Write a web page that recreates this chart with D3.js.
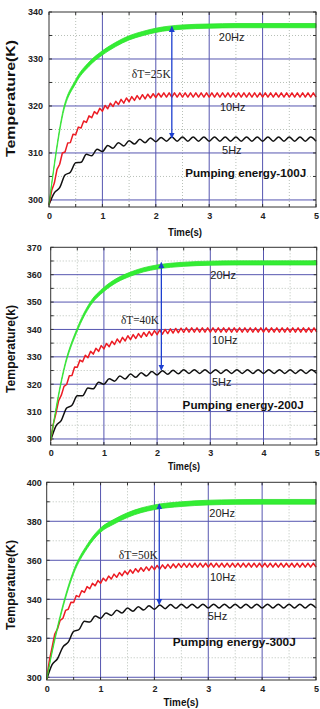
<!DOCTYPE html>
<html>
<head>
<meta charset="utf-8">
<script src="https://cdnjs.cloudflare.com/ajax/libs/d3/7.8.5/d3.min.js"></script>
<style>
  body { margin: 0; background: #fff; }
</style>
</head>
<body>
<div id="chart"></div>
<script>
// ---- data ----
const xTicks = [0, 1, 2, 3, 4, 5];
const xMinor = [0.5, 1.5, 2.5, 3.5, 4.5];
const yTicks100 = [300, 310, 320, 330, 340];
const yTicks200 = [300, 310, 320, 330, 340, 350, 360, 370];
const yTicks300 = [300, 320, 340, 360, 380, 400];
const yMinor100 = [305, 315, 325, 335];
const yMinor200 = [305, 315, 325, 335, 345, 355, 365];
const yMinor300 = [310, 330, 350, 370, 390];

const seriesNames = ["20Hz", "10Hz", "5Hz"];
const energyLabels = ["Pumping energy-100J", "Pumping energy-200J", "Pumping energy-300J"];
const yTitles = ["Temperature(K)", "Temperature(k)", "Temperature(K)"];
const deltaLabels = ["\u03b4T=25K", "\u03b4T=40K", "\u03b4T=50K"];

// 20Hz: ripple too dense to resolve, kept as lower / upper envelope
const greenTimes = [0, 0.1, 0.25, 0.5, 0.75, 1, 1.25, 1.5, 1.75, 2, 2.5, 3, 3.5, 4, 4.5, 5];
const green100Lo = [299, 307.2, 317.65, 324.8, 328.45, 330.85, 332.65, 334.05, 334.95, 335.65, 336.35, 336.55, 336.65, 336.65, 336.65, 336.65];
const green100Hi = [299, 307.8, 318.35, 325.6, 329.35, 331.75, 333.55, 334.95, 335.85, 336.55, 337.25, 337.45, 337.55, 337.55, 337.55, 337.55];
const green200Lo = [299.5, 310.6, 325.0, 339.4, 348.8, 353.85, 357.25, 359.45, 361.05, 362.05, 363.05, 363.45, 363.55, 363.55, 363.55, 363.55];
const green200Hi = [299.5, 311.4, 326.0, 340.6, 350.2, 355.35, 358.75, 360.95, 362.55, 363.55, 364.55, 364.95, 365.05, 365.05, 365.05, 365.05];
const green300Lo = [299, 312.5, 330.3, 353.1, 366.0, 374.4, 378.6, 382.0, 384.4, 386.0, 387.6, 388.4, 388.7, 388.8, 388.8, 388.8];
const green300Hi = [299, 313.5, 331.7, 354.9, 368.0, 376.6, 381.0, 384.4, 386.8, 388.4, 390.0, 390.8, 391.1, 391.2, 391.2, 391.2];

// 10Hz: trough / peak every 0.05 s
const redStep = 0.05;
const red100 = [299.0, 302.0, 303.6, 306.5, 307.6, 310.0, 310.2, 312.1, 312.2, 314.0,
  313.9, 315.5, 315.3, 316.8, 316.5, 317.9, 317.5, 318.8, 318.3, 319.5,
  318.9, 320.1, 319.4, 320.6, 319.9, 321.0, 320.3, 321.4, 320.6, 321.7,
  320.9, 322.0, 321.2, 322.2, 321.4, 322.4, 321.5, 322.5, 321.7, 322.6,
  321.8, 322.7, 321.9, 322.8, 321.9, 322.8, 321.9, 322.8, 321.9, 322.8,
  321.9, 322.8, 321.9, 322.8, 321.9, 322.8, 321.9, 322.8, 321.9, 322.8,
  321.9, 322.8, 321.9, 322.8, 321.9, 322.8, 321.9, 322.8, 321.9, 322.8,
  321.9, 322.8, 321.9, 322.8, 321.9, 322.8, 321.9, 322.8, 321.9, 322.8,
  321.9, 322.8, 321.9, 322.8, 321.9, 322.8, 321.9, 322.8, 321.9, 322.8,
  321.9, 322.8, 321.9, 322.8, 321.9, 322.8, 321.9, 322.8, 321.9, 322.8,
  321.9];
const red200 = [299.5, 305.5, 309.5, 314.0, 316.0, 319.2, 319.9, 323.1, 323.2, 326.3,
  326.2, 328.8, 328.2, 330.6, 329.7, 332.0, 331.0, 333.1, 332.0, 334.1,
  332.9, 334.9, 333.7, 335.7, 334.5, 336.5, 335.2, 337.1, 335.8, 337.7,
  336.3, 338.1, 336.7, 338.5, 337.1, 338.9, 337.5, 339.25, 337.8, 339.55,
  338.1, 339.8, 338.3, 340.0, 338.5, 340.2, 338.7, 340.35, 338.8, 340.45,
  338.9, 340.6, 339.0, 340.6, 339.0, 340.6, 339.0, 340.6, 339.0, 340.6,
  339.0, 340.6, 339.0, 340.6, 339.0, 340.6, 339.0, 340.6, 339.0, 340.6,
  339.0, 340.6, 339.0, 340.6, 339.0, 340.6, 339.0, 340.6, 339.0, 340.6,
  339.0, 340.6, 339.0, 340.6, 339.0, 340.6, 339.0, 340.6, 339.0, 340.6,
  339.0, 340.6, 339.0, 340.6, 339.0, 340.6, 339.0, 340.6, 339.0, 340.6,
  339.0];
const red300 = [299.0, 308.7, 315.3, 322.2, 324.8, 329.2, 330.2, 334.3, 334.9, 338.5,
  338.4, 341.9, 341.2, 344.4, 343.5, 346.5, 345.4, 348.2, 346.9, 349.6,
  348.2, 350.8, 349.4, 351.9, 350.4, 352.9, 351.3, 353.7, 352.1, 354.5,
  352.8, 355.1, 353.4, 355.7, 354.0, 356.2, 354.4, 356.6, 354.8, 357.0,
  355.2, 357.35, 355.5, 357.65, 355.8, 357.9, 356.0, 358.1, 356.2, 358.3,
  356.35, 358.4, 356.4, 358.45, 356.45, 358.5, 356.5, 358.5, 356.5, 358.5,
  356.5, 358.5, 356.5, 358.5, 356.5, 358.5, 356.5, 358.5, 356.5, 358.5,
  356.5, 358.5, 356.5, 358.5, 356.5, 358.5, 356.5, 358.5, 356.5, 358.5,
  356.5, 358.5, 356.5, 358.5, 356.5, 358.5, 356.5, 358.5, 356.5, 358.5,
  356.5, 358.5, 356.5, 358.5, 356.5, 358.5, 356.5, 358.5, 356.5, 358.5,
  356.5];

// 5Hz: trough / peak every 0.1 s
const blackStep = 0.1;
const black100 = [299.0, 301.5, 302.6, 305.3, 305.9, 307.9, 308.0, 309.7, 309.4, 310.8,
  310.3, 311.6, 311.0, 312.2, 311.5, 312.6, 311.9, 312.9, 312.2, 313.2,
  312.4, 313.3, 312.5, 313.4, 312.5, 313.4, 312.5, 313.4, 312.5, 313.4,
  312.5, 313.4, 312.5, 313.4, 312.5, 313.4, 312.5, 313.4, 312.5, 313.4,
  312.5, 313.4, 312.5, 313.4, 312.5, 313.4, 312.5, 313.4, 312.5, 313.4,
  312.5];
const black200 = [299.5, 304.8, 306.8, 311.3, 312.3, 315.8, 315.8, 318.6, 318.3, 320.7,
  320.0, 322.0, 321.1, 323.0, 321.9, 323.7, 322.5, 324.2, 323.0, 324.6,
  323.4, 324.9, 323.6, 325.1, 323.8, 325.3, 323.9, 325.3, 323.9, 325.3,
  323.9, 325.3, 323.9, 325.3, 323.9, 325.3, 323.9, 325.3, 323.9, 325.3,
  323.9, 325.3, 323.9, 325.3, 323.9, 325.3, 323.9, 325.3, 323.9, 325.3,
  323.9];
const black300 = [299.0, 306.5, 309.5, 315.5, 318.0, 323.5, 324.5, 328.7, 328.3, 331.4,
  330.2, 333.0, 331.7, 334.4, 333.0, 335.5, 333.9, 336.2, 334.5, 336.7,
  334.9, 337.05, 335.2, 337.3, 335.4, 337.5, 335.5, 337.5, 335.5, 337.5,
  335.5, 337.5, 335.5, 337.5, 335.5, 337.5, 335.5, 337.5, 335.5, 337.5,
  335.5, 337.5, 335.5, 337.5, 335.5, 337.5, 335.5, 337.5, 335.5, 337.5,
  335.5];

// annotations, in data units (time s, temperature K)
const nameAt = [[[3.18, 334.7], [3.2, 319.85], [3.24, 310.6]],
                [[3.0, 359.9], [3.03, 336.1], [3.03, 320.9]],
                [[3.02, 384.1], [3.03, 351.1], [2.99, 331.1]]];
const energyAt = [[2.55, 305.7], [2.48, 312.4], [2.34, 318.3]];
const deltaAt = [[1.55, 326.8], [1.32, 343.4], [1.34, 362.7]];
const arrowT = [2.3, 2.08, 2.09];
const arrowFrom = [336.9, 364.4, 388.9];
const arrowTo = [313.2, 325.2, 337.4];

// ---- layout ----
const width = 320, height = 709;
const panels = [
  {left: 49, right: 316, top: 12, bottom: 207, yDomain: [298.5, 340], yTicks: yTicks100, yMinor: yMinor100,
   lo: green100Lo, hi: green100Hi, red: red100, black: black100,
   padX: 5.8, padY: 6, titleX: 185, titleY: 231.7, titleLen: 34, yTitleCy: 98.5, yTitleLen: 117, energyLen: 121, deltaLen: 39},
  {left: 50.7, right: 316.7, top: 247.3, bottom: 445, yDomain: [297.8, 370], yTicks: yTicks200, yMinor: yMinor200,
   lo: green200Lo, hi: green200Hi, red: red200, black: black200,
   padX: 4.5, padY: 9, titleX: 184, titleY: 466, titleLen: 32, yTitleCy: 349, yTitleLen: 88, energyLen: 121, deltaLen: 38},
  {left: 46.7, right: 316, top: 482.3, bottom: 680, yDomain: [298.6, 400], yTicks: yTicks300, yMinor: yMinor300,
   lo: green300Lo, hi: green300Hi, red: red300, black: black300,
   padX: 5.8, padY: 5, titleX: 181, titleY: 701.7, titleLen: 35, yTitleCy: 585, yTitleLen: 90, energyLen: 123, deltaLen: 39}
];

const sans = "'Liberation Sans', Arial, sans-serif";
const serif = "'Liberation Serif', 'Times New Roman', serif";
const gridBlue = "#5656b0";

let svg = d3.select("#chart").append("svg")
  .attr("width", width)
  .attr("height", height)
  .style("display", "block");

svg.append("defs").append("marker")
  .attr("id", "arrowHead")
  .attr("viewBox", "0 0 10 10")
  .attr("refX", 9).attr("refY", 5)
  .attr("markerUnits", "userSpaceOnUse")
  .attr("markerWidth", 6).attr("markerHeight", 7)
  .attr("orient", "auto-start-reverse")
  .append("path")
  .attr("d", "M0,0 L10,5 L0,10 z")
  .attr("fill", "#1d3fd0");

panels.forEach(function(p, k) {
  let xScale = d3.scaleLinear().domain([0, 5]).range([p.left, p.right]);
  let yScale = d3.scaleLinear().domain(p.yDomain).range([p.bottom, p.top]);
  let g = svg.append("g");

  // dotted minor grid
  g.selectAll(".vminor").data(xMinor).enter().append("line")
    .attr("x1", d => xScale(d)).attr("x2", d => xScale(d))
    .attr("y1", p.top).attr("y2", p.bottom)
    .attr("stroke", "#b8c0b8").attr("stroke-width", 1).attr("stroke-dasharray", "1,2");
  g.selectAll(".hminor").data(p.yMinor).enter().append("line")
    .attr("x1", p.left).attr("x2", p.right)
    .attr("y1", d => yScale(d)).attr("y2", d => yScale(d))
    .attr("stroke", "#b8c0b8").attr("stroke-width", 1).attr("stroke-dasharray", "1,2");

  // solid major grid
  g.selectAll(".vmajor").data(xTicks.slice(1, -1)).enter().append("line")
    .attr("x1", d => xScale(d)).attr("x2", d => xScale(d))
    .attr("y1", p.top).attr("y2", p.bottom)
    .attr("stroke", gridBlue).attr("stroke-width", 1);
  g.selectAll(".hmajor").data(p.yTicks.slice(0, -1)).enter().append("line")
    .attr("x1", p.left).attr("x2", p.right)
    .attr("y1", d => yScale(d)).attr("y2", d => yScale(d))
    .attr("stroke", gridBlue).attr("stroke-width", 1);

  // inward ticks on all four sides
  let xAll = xTicks.concat(xMinor);
  let yAll = p.yTicks.concat(p.yMinor);
  xAll.forEach(function(t) {
    g.append("line").attr("x1", xScale(t)).attr("x2", xScale(t))
      .attr("y1", p.top).attr("y2", p.top + 3).attr("stroke", "#333");
    g.append("line").attr("x1", xScale(t)).attr("x2", xScale(t))
      .attr("y1", p.bottom).attr("y2", p.bottom - 3).attr("stroke", "#333");
  });
  yAll.forEach(function(v) {
    g.append("line").attr("x1", p.left).attr("x2", p.left + 3)
      .attr("y1", yScale(v)).attr("y2", yScale(v)).attr("stroke", "#333");
    g.append("line").attr("x1", p.right).attr("x2", p.right - 3)
      .attr("y1", yScale(v)).attr("y2", yScale(v)).attr("stroke", "#333");
  });

  // curves
  let blackLine = d3.line()
    .x((d, i) => xScale(i * blackStep))
    .y(d => yScale(d))
    .curve(d3.curveMonotoneX);
  let redLine = d3.line()
    .x((d, i) => xScale(i * redStep))
    .y(d => yScale(d));
  let greenBand = d3.area()
    .x((d, i) => xScale(greenTimes[i]))
    .y0((d, i) => yScale(p.lo[i]))
    .y1((d, i) => yScale(p.hi[i]))
    .curve(d3.curveMonotoneX);

  g.append("path").datum(p.black)
    .attr("d", blackLine)
    .attr("fill", "none").attr("stroke", "#111").attr("stroke-width", 1.5);
  g.append("path").datum(p.red)
    .attr("d", redLine)
    .attr("fill", "none").attr("stroke", "#ec1c24").attr("stroke-width", 1.5)
    .attr("stroke-linejoin", "round");
  g.append("path").datum(p.lo)
    .attr("d", greenBand)
    .attr("fill", "#33ee33").attr("stroke", "#2ee02e").attr("stroke-width", 0.8);

  // frame
  g.append("rect")
    .attr("x", p.left).attr("y", p.top)
    .attr("width", p.right - p.left).attr("height", p.bottom - p.top)
    .attr("fill", "none").attr("stroke", "#333").attr("stroke-width", 1);

  // axes labels
  let xAxis = d3.axisBottom(xScale).tickValues(xTicks).tickSize(0).tickPadding(p.padX).tickFormat(d3.format("d"));
  let yAxis = d3.axisLeft(yScale).tickValues(p.yTicks).tickSize(0).tickPadding(p.padY).tickFormat(d3.format("d"));
  let xg = g.append("g").attr("transform", "translate(0," + p.bottom + ")").call(xAxis);
  let yg = g.append("g").attr("transform", "translate(" + p.left + ",0)").call(yAxis);
  [xg, yg].forEach(function(a) {
    a.select(".domain").remove();
    a.selectAll("text")
      .attr("font-family", sans).attr("font-size", 9).attr("font-weight", "bold").attr("fill", "#222");
  });

  g.append("text")
    .attr("x", p.titleX).attr("y", p.titleY).attr("dy", "0.35em")
    .attr("text-anchor", "middle")
    .attr("font-family", sans).attr("font-size", 11).attr("font-weight", "bold").attr("fill", "#111")
    .attr("textLength", p.titleLen).attr("lengthAdjust", "spacingAndGlyphs")
    .text("Time(s)");
  g.append("text")
    .attr("transform", "translate(10," + p.yTitleCy + ") rotate(-90)")
    .attr("dy", "0.35em")
    .attr("text-anchor", "middle")
    .attr("font-family", sans).attr("font-size", 13).attr("font-weight", "bold").attr("fill", "#111")
    .attr("textLength", p.yTitleLen).attr("lengthAdjust", "spacingAndGlyphs")
    .text(yTitles[k]);

  // series names
  nameAt[k].forEach(function(pos, j) {
    g.append("text")
      .attr("x", xScale(pos[0])).attr("y", yScale(pos[1])).attr("dy", "0.35em")
      .attr("font-family", sans).attr("font-size", 11).attr("fill", "#222")
      .text(seriesNames[j]);
  });

  g.append("text")
    .attr("x", xScale(energyAt[k][0])).attr("y", yScale(energyAt[k][1])).attr("dy", "0.35em")
    .attr("font-family", sans).attr("font-size", 11.5).attr("font-weight", "bold").attr("fill", "#111")
    .attr("textLength", p.energyLen).attr("lengthAdjust", "spacingAndGlyphs")
    .text(energyLabels[k]);

  g.append("text")
    .attr("x", xScale(deltaAt[k][0])).attr("y", yScale(deltaAt[k][1])).attr("dy", "0.35em")
    .attr("font-family", serif).attr("font-size", 11.5).attr("fill", "#222")
    .attr("textLength", p.deltaLen).attr("lengthAdjust", "spacingAndGlyphs")
    .text(deltaLabels[k]);

  // double arrow for delta T
  g.append("line")
    .attr("x1", xScale(arrowT[k])).attr("x2", xScale(arrowT[k]))
    .attr("y1", yScale(arrowFrom[k])).attr("y2", yScale(arrowTo[k]))
    .attr("stroke", "#1d3fd0").attr("stroke-width", 1.3)
    .attr("marker-start", "url(#arrowHead)")
    .attr("marker-end", "url(#arrowHead)");
});
</script>
</body>
</html>
